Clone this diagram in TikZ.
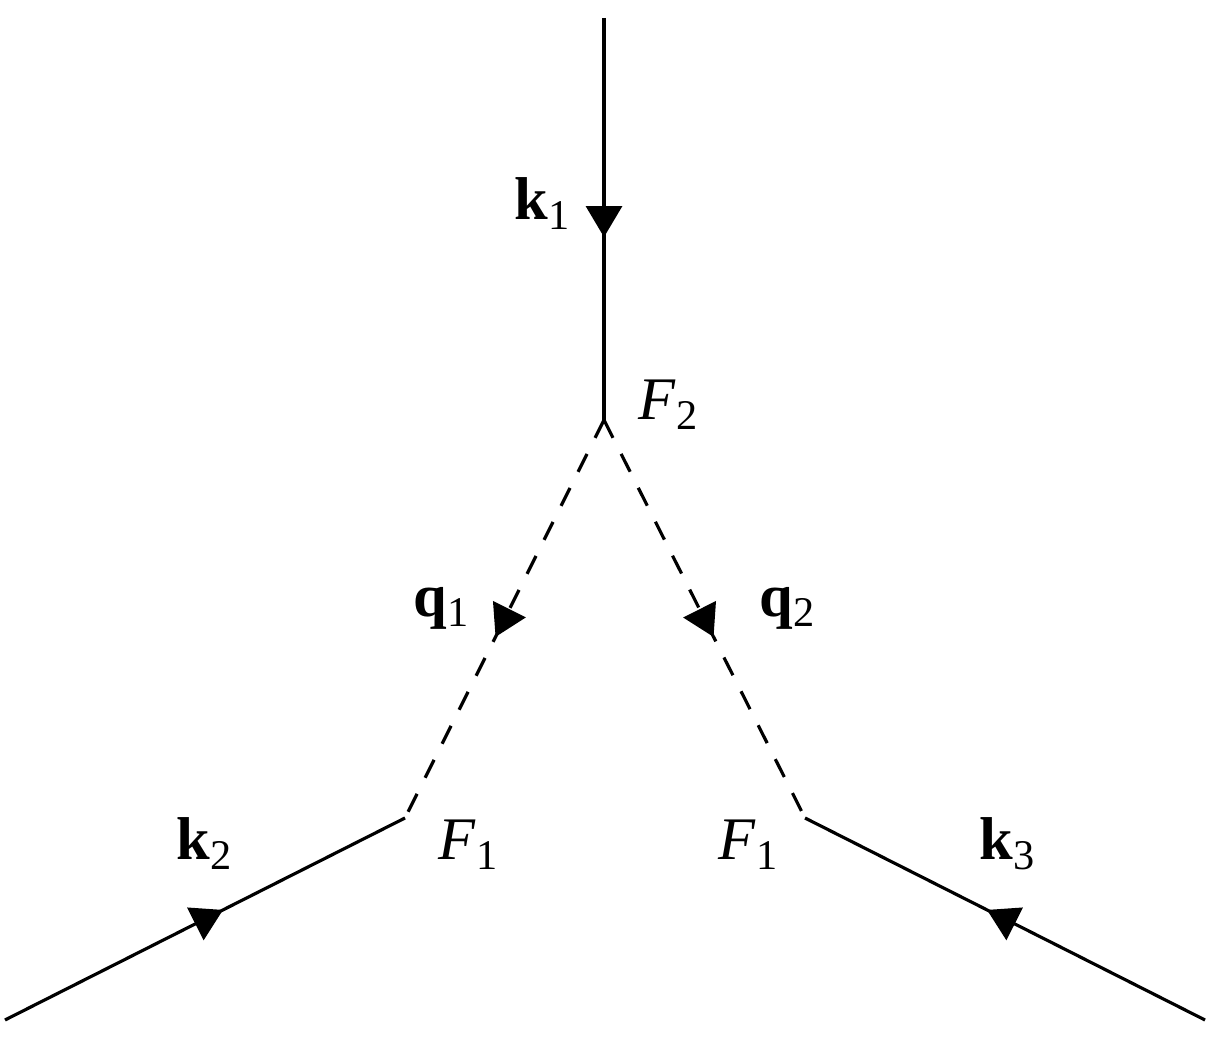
\documentclass[tikz,border=0pt]{standalone}
\usepackage{fontspec}
\setmainfont{Liberation Serif}
\usetikzlibrary{arrows.meta,decorations.markings}
\begin{document}
\begin{tikzpicture}[line width=0.9pt,>={Triangle[length=3.1mm,width=3.6mm]},font=\fontsize{17.2}{20}\selectfont,
	midarrow/.style={postaction={decorate,solid},decoration={markings,mark=at position 0.545 with {\arrow{>}}}},
	propline/.style={dash pattern=on 0.2cm off 0.18cm}]
	\useasboundingbox (0,0) rectangle (12.1,10.54);
	\coordinate (kin) at (6.04,10.36);
	\coordinate (vtop) at (6.04,6.34);
	\coordinate (vleft) at (4.05,2.36);
	\coordinate (vright) at (8.05,2.36);
	\coordinate (kleft) at (0.05,0.34);
	\coordinate (kright) at (12.05,0.34);
	\draw[midarrow] (kin)--(vtop);
	\draw[midarrow,propline] (vtop)--(vleft);
	\draw[midarrow,propline] (vtop)--(vright);
	\draw[midarrow] (kleft)--(vleft);
	\draw[midarrow] (kright)--(vright);
	\node[anchor=base west,inner sep=0pt] (lk1) at (5.13,8.34) {\textbf{k}\textsubscript{1}};
	\node[anchor=base west,inner sep=0pt] (lF2) at (6.37,6.34) {\textit{F}\textsubscript{2}};
	\node[anchor=base west,inner sep=0pt] (lq1) at (4.12,4.37) {\textbf{q}\textsubscript{1}};
	\node[anchor=base west,inner sep=0pt] (lq2) at (7.58,4.37) {\textbf{q}\textsubscript{2}};
	\node[anchor=base west,inner sep=0pt] (lk2) at (1.75,1.94) {\textbf{k}\textsubscript{2}};
	\node[anchor=base west,inner sep=0pt] (lF1a) at (4.37,1.94) {\textit{F}\textsubscript{1}};
	\node[anchor=base west,inner sep=0pt] (lF1b) at (7.17,1.94) {\textit{F}\textsubscript{1}};
	\node[anchor=base west,inner sep=0pt] (lk3) at (9.78,1.94) {\textbf{k}\textsubscript{3}};
\end{tikzpicture}
\end{document}
